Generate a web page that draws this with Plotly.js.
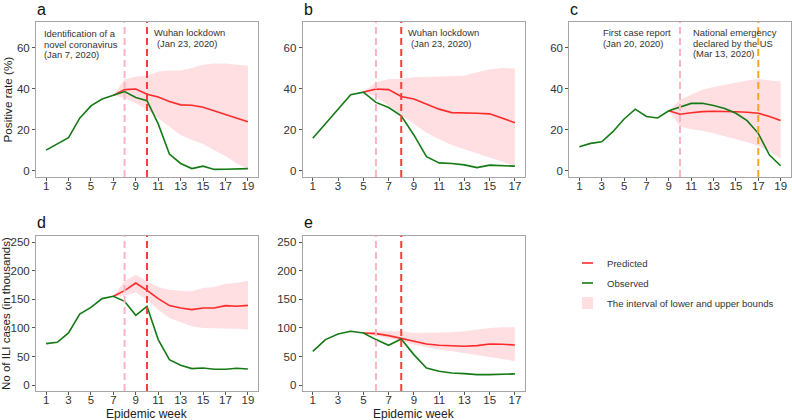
<!DOCTYPE html>
<html>
<head>
<meta charset="utf-8">
<script src="https://cdn.plot.ly/plotly-3.0.1.min.js"></script>
<style>html,body{margin:0;padding:0;background:#fff;}#chart{width:792px;height:420px;}</style>
</head>
<body>
<div id="chart"></div>
<script>
// ---------- DATA ----------
// Panel a
const weeksA = [1,2,3,4,5,6,7,8,9,10,11,12,13,14,15,16,17,18,19];
const obsA = [10.1,13.0,16.2,25.7,31.7,35.0,36.8,38.7,35.8,34.2,22.9,8.2,3.6,1.1,2.3,0.7,0.8,1.0,1.1];
const predWeeksA = [7,8,9,10,11,12,13,14,15,16,17,18,19];
const predA = [36.8,39.6,39.9,37.4,36.0,33.8,32.2,32.0,31.0,29.3,27.6,25.7,24.0];
const upperA = [36.8,44.5,46.0,46.4,48.5,49.0,49.0,50.2,51.8,52.3,52.3,51.8,51.3];
const lowerA = [36.8,35.5,33.0,29.8,25.7,21.6,17.5,15.0,13.1,10.1,7.2,3.6,1.1];

// Panel b
const weeksB = [1,2,3,4,5,6,7,8,9,10,11,12,13,14,15,16,17];
const obsB = [15.9,23.0,30.0,37.1,38.4,33.4,30.9,26.8,17.5,6.9,3.9,3.6,2.9,1.6,2.8,2.5,2.3];
const predWeeksB = [5,6,7,8,9,10,11,12,13,14,15,16,17];
const predB = [38.4,39.9,39.6,36.3,35.0,32.7,30.1,28.4,28.4,28.1,27.8,25.7,23.5];
const upperB = [38.4,43.2,44.8,44.8,45.6,45.8,46.1,46.1,46.4,48.1,49.4,50.2,49.9];
const lowerB = [38.4,36.3,31.7,27.3,22.9,18.6,15.4,12.6,10.5,8.5,6.5,4.4,2.5];

// Panel c
const weeksC = [1,2,3,4,5,6,7,8,9,10,11,12,13,14,15,16,17,18,19];
const obsC = [11.8,13.4,14.2,19.1,25.3,30.1,26.5,25.8,29.3,31.1,32.9,33.0,31.9,30.4,28.1,24.5,18.3,7.7,2.5];
const predWeeksC = [9,10,11,12,13,14,15,16,17,18,19];
const predC = [29.3,27.6,28.3,28.9,29.1,29.1,28.8,28.6,28.1,26.5,24.5];
const upperC = [29.3,34.7,37.1,39.6,40.9,42.0,43.2,44.1,44.8,44.1,43.6];
const lowerC = [29.3,21.6,20.3,19.5,18.3,16.7,15.4,13.9,12.3,9.3,6.0];

// Panel d (ILI cases, thousands)
const weeksD = [1,2,3,4,5,6,7,8,9,10,11,12,13,14,15,16,17,18,19];
const obsD = [72.7,75.0,91.3,124.4,136.0,151.2,155.2,146.5,122.0,137.8,79.7,44.8,34.9,29.1,30.2,27.9,27.9,29.7,28.5];
const predWeeksD = [7,8,9,10,11,12,13,14,15,16,17,18,19];
const predD = [155.2,165.1,178.5,165.7,151.2,139.0,134.9,132.0,134.9,134.9,139.0,137.8,139.5];
const upperD = [155.2,181.4,193.0,181.4,171.5,166.9,165.1,164.0,169.8,171.5,177.3,178.5,182.6];
const lowerD = [155.2,156.4,162.2,149.4,132.0,117.4,109.9,102.9,100.0,100.0,100.0,98.8,97.1];

// Panel e
const weeksE = [1,2,3,4,5,6,7,8,9,10,11,12,13,14,15,16,17];
const obsE = [59.3,79.7,89.5,94.2,91.3,79.7,69.8,80.8,53.5,30.2,24.4,21.5,20.3,18.6,18.6,19.8,19.8];
const predWeeksE = [5,6,7,8,9,10,11,12,13,14,15,16,17];
const predE = [91.3,90.1,86.6,81.4,76.7,72.1,69.8,68.6,68.0,69.2,72.1,71.5,70.3];
const upperE = [91.3,94.2,94.2,94.2,91.3,91.3,91.3,92.4,94.2,97.1,100.0,101.2,101.2];
const lowerE = [91.3,86.6,80.8,76.7,70.9,66.3,62.2,59.3,56.4,53.5,49.4,45.9,41.9];

// Event weeks
const eventsA = [{week: 8, kind: 'pink'}, {week: 10, kind: 'red'}];
const eventsB = [{week: 6, kind: 'pink'}, {week: 8, kind: 'red'}];
const eventsC = [{week: 10, kind: 'pink'}, {week: 17, kind: 'orange'}];
const eventsD = [{week: 8, kind: 'pink'}, {week: 10, kind: 'red'}];
const eventsE = [{week: 6, kind: 'pink'}, {week: 8, kind: 'red'}];

const legendNames = ['Predicted', 'Observed', 'The interval of lower and upper bounds'];

// ---------- STYLE ----------
const W = 792, H = 420;
const RED = '#FF2A2A', GREEN = '#157A15', BAND = '#FFDFE2';
const VCOL = {pink: '#FFB3C1', red: '#FF3B3B', orange: '#F5A623'};
const FONT = 'Liberation Sans, Arial, sans-serif';
const px = v => v / W;
const py = v => 1 - v / H;

const panels = [
  {id: '', weeks: weeksA, obs: obsA, pw: predWeeksA, pred: predA, up: upperA, lo: lowerA, ev: eventsA,
   xd: [36, 258], yd: [22, 177], xr: [0.1, 19.9], yr: [-3, 72.6], dt: 20},
  {id: '2', weeks: weeksB, obs: obsB, pw: predWeeksB, pred: predB, up: upperB, lo: lowerB, ev: eventsB,
   xd: [302.7, 525], yd: [22, 177], xr: [0.2, 17.8], yr: [-3, 72.6], dt: 20},
  {id: '3', weeks: weeksC, obs: obsC, pw: predWeeksC, pred: predC, up: upperC, lo: lowerC, ev: eventsC,
   xd: [569.3, 790.7], yd: [22, 177], xr: [0.1, 19.9], yr: [-3, 72.6], dt: 20},
  {id: '4', weeks: weeksD, obs: obsD, pw: predWeeksD, pred: predD, up: upperD, lo: lowerD, ev: eventsD,
   xd: [36, 258], yd: [235.7, 391], xr: [0.1, 19.9], yr: [-10, 261], dt: 50, xtitle: 'Epidemic week'},
  {id: '5', weeks: weeksE, obs: obsE, pw: predWeeksE, pred: predE, up: upperE, lo: lowerE, ev: eventsE,
   xd: [302.7, 525], yd: [235.7, 391], xr: [0.2, 17.8], yr: [-10, 261], dt: 50, xtitle: 'Epidemic week'}
];

const traces = [];
const shapes = [];
const layout = {
  width: W, height: H,
  margin: {l: 0, r: 0, t: 0, b: 0},
  paper_bgcolor: '#fff', plot_bgcolor: '#fff',
  font: {family: FONT, color: '#333', size: 12},
  showlegend: false,
  annotations: [],
  shapes: shapes
};

panels.forEach((p, i) => {
  const xa = 'x' + p.id, ya = 'y' + p.id;
  traces.push({x: p.pw, y: p.lo, xaxis: xa, yaxis: ya, type: 'scatter', mode: 'lines',
    line: {width: 0, color: BAND}, hoverinfo: 'skip', name: legendNames[2] + ' (lower)'});
  traces.push({x: p.pw, y: p.up, xaxis: xa, yaxis: ya, type: 'scatter', mode: 'lines',
    fill: 'tonexty', fillcolor: BAND, line: {width: 0, color: BAND}, name: legendNames[2]});
  traces.push({x: p.pw, y: p.pred, xaxis: xa, yaxis: ya, type: 'scatter', mode: 'lines',
    line: {width: 1.6, color: RED}, name: legendNames[0]});
  traces.push({x: p.weeks, y: p.obs, xaxis: xa, yaxis: ya, type: 'scatter', mode: 'lines',
    line: {width: 1.6, color: GREEN}, name: legendNames[1]});

  p.ev.forEach(e => {
    shapes.push({type: 'line', xref: xa, yref: ya + ' domain', x0: e.week, x1: e.week, y0: 0, y1: 1,
      line: {color: VCOL[e.kind], width: 2, dash: '7px,4px'}, layer: 'above'});
  });

  const axBase = {showgrid: false, zeroline: false, showline: true, mirror: true,
    linecolor: '#A6A6A6', linewidth: 1, ticks: 'outside', ticklen: 3, tickcolor: '#555',
    tickfont: {family: FONT, size: 11.5, color: '#333'}, fixedrange: true};
  layout['xaxis' + p.id] = Object.assign({}, axBase, {
    domain: [px(p.xd[0]), px(p.xd[1])], range: p.xr, anchor: ya,
    tickmode: 'linear', tick0: 1, dtick: 2, title: {text: ''}, ticklabelstandoff: -5
  });
  layout['yaxis' + p.id] = Object.assign({}, axBase, {
    domain: [py(p.yd[1]), py(p.yd[0])], range: p.yr, anchor: xa,
    tickmode: 'linear', tick0: 0, dtick: p.dt
  });
  if (p.xtitle) {
    layout.annotations.push({text: p.xtitle, xref: 'paper', yref: 'paper',
      x: px((p.xd[0] + p.xd[1]) / 2), y: py(414), xanchor: 'center', yanchor: 'middle',
      showarrow: false, font: {family: FONT, size: 12, color: '#222'}});
  }
});

// Manual legend (keys + labels)
const legFont = {family: FONT, size: 9.6, color: '#333'};
const legY = [263, 283, 303];
shapes.push({type: 'line', xref: 'paper', yref: 'paper', x0: px(582), x1: px(593), y0: py(legY[0]), y1: py(legY[0]),
  line: {color: RED, width: 1.6}});
shapes.push({type: 'line', xref: 'paper', yref: 'paper', x0: px(582), x1: px(593), y0: py(legY[1]), y1: py(legY[1]),
  line: {color: GREEN, width: 1.6}});
shapes.push({type: 'rect', xref: 'paper', yref: 'paper', x0: px(582), x1: px(593), y0: py(legY[2] - 6), y1: py(legY[2] + 6),
  fillcolor: BAND, line: {width: 0}});
legendNames.forEach((n, k) => layout.annotations.push({text: n, xref: 'paper', yref: 'paper',
  x: px(605), y: py(legY[k]), xanchor: 'left', yanchor: 'middle', showarrow: false, font: legFont}));

// Panel letters
const letters = [['a', 36, 9], ['b', 303, 9], ['c', 569, 9], ['d', 36, 222], ['e', 303, 222]];
letters.forEach(l => layout.annotations.push({text: l[0], xref: 'paper', yref: 'paper',
  x: px(l[1] - 1), y: py(l[2]), xanchor: 'left', yanchor: 'middle', showarrow: false,
  font: {family: FONT, size: 16, color: '#111'}}));

// Event labels (one annotation per line to match tight line spacing)
const noteFont = {family: FONT, size: 9.4, color: '#333'};
const notes = [
  ['Identification of a', 42, 33.3], ['novel coronavirus', 42, 44.3], ['(Jan 7, 2020)', 42, 54.5],
  ['Wuhan lockdown', 152, 33], ['(Jan 23, 2020)', 155, 44],
  ['Wuhan lockdown', 406, 32.5], ['(Jan 23, 2020)', 409, 43.5],
  ['First case report', 601, 32.3], ['(Jan 20, 2020)', 601, 43.3],
  ['National emergency', 691, 32.3], ['declared by the US', 691, 43.3], ['(Mar 13, 2020)', 691, 54]
];
notes.forEach(n => layout.annotations.push({text: n[0], xref: 'paper', yref: 'paper',
  x: px(n[1]), y: py(n[2]), xanchor: 'left', yanchor: 'middle', align: 'left', showarrow: false,
  font: noteFont}));

// Y axis titles
layout.annotations.push({text: 'Positive rate (%)', xref: 'paper', yref: 'paper', x: px(6.5), y: py(100),
  textangle: -90, showarrow: false, xanchor: 'center', yanchor: 'middle',
  font: {family: FONT, size: 11.7, color: '#222'}});
layout.annotations.push({text: 'No of ILI cases (in thousands)', xref: 'paper', yref: 'paper', x: px(6), y: py(314),
  textangle: -90, showarrow: false, xanchor: 'center', yanchor: 'middle',
  font: {family: FONT, size: 11.5, color: '#222'}});

Plotly.newPlot('chart', traces, layout, {displayModeBar: false, staticPlot: true});
</script>
</body>
</html>
